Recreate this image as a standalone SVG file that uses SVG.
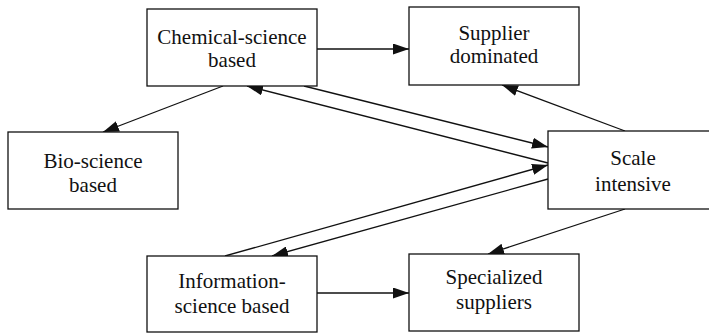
<svg xmlns="http://www.w3.org/2000/svg" width="709" height="333" viewBox="0 0 709 333">
  <style>
    .box { fill: #ffffff; stroke: #111111; stroke-width: 1.3; }
    .lbl { font-family: "Liberation Serif", "Times New Roman", serif; font-size: 21px; fill: #111111; text-anchor: middle; }
    .edge { fill: none; stroke: #111111; stroke-width: 1.3; marker-end: url(#arr); }
  </style>
  <defs>
    <marker id="arr" markerUnits="userSpaceOnUse" markerWidth="16" markerHeight="11" refX="16" refY="5.5" orient="auto">
      <path d="M0,0 L16,5.5 L0,11 z" fill="#111111"/>
    </marker>
  </defs>
  <rect width="709" height="333" fill="#ffffff"/>

  <g id="connectors">
    <line class="edge" x1="317" y1="49" x2="409" y2="49"/>
    <line class="edge" x1="223" y1="86" x2="103" y2="132"/>
    <line class="edge" x1="304" y1="86" x2="548" y2="147"/>
    <line class="edge" x1="548" y1="163" x2="247" y2="86"/>
    <line class="edge" x1="225" y1="256" x2="548" y2="165"/>
    <line class="edge" x1="548" y1="179" x2="272" y2="256"/>
    <line class="edge" x1="625" y1="131" x2="502" y2="85"/>
    <line class="edge" x1="625" y1="209" x2="488" y2="254"/>
    <line class="edge" x1="317" y1="293" x2="409" y2="293"/>
  </g>

  <g id="chemical">
    <rect class="box" x="147" y="9" width="170" height="77"/>
    <text class="lbl" x="232" y="44">Chemical-science</text>
    <text class="lbl" x="232" y="67">based</text>
  </g>
  <g id="supplier">
    <rect class="box" x="409" y="7" width="170" height="78"/>
    <text class="lbl" x="494" y="40">Supplier</text>
    <text class="lbl" x="494" y="63">dominated</text>
  </g>
  <g id="bio">
    <rect class="box" x="8" y="132" width="170" height="77"/>
    <text class="lbl" x="93" y="168">Bio-science</text>
    <text class="lbl" x="93" y="192">based</text>
  </g>
  <g id="scale">
    <rect class="box" x="548" y="131" width="170" height="78"/>
    <text class="lbl" x="633" y="165">Scale</text>
    <text class="lbl" x="633" y="191">intensive</text>
  </g>
  <g id="information">
    <rect class="box" x="147" y="256" width="170" height="76"/>
    <text class="lbl" x="232" y="288">Information-</text>
    <text class="lbl" x="232" y="313">science based</text>
  </g>
  <g id="specialized">
    <rect class="box" x="409" y="254" width="170" height="77"/>
    <text class="lbl" x="494" y="284">Specialized</text>
    <text class="lbl" x="494" y="309">suppliers</text>
  </g>
</svg>
